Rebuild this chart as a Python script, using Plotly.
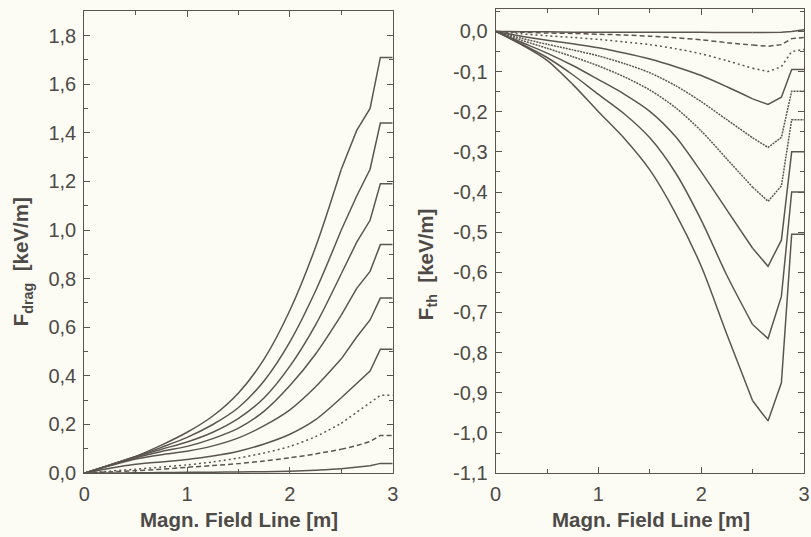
import plotly.graph_objects as go

# Position along the magnetic field line [m]
pos = [0, 0.25, 0.5, 0.75, 1.0, 1.25, 1.5, 1.75, 2.0, 2.25, 2.5, 2.65, 2.78, 2.88, 3.0]

# Drag force curves [keV/m]
drag_1 = [0, 0.034, 0.069, 0.115, 0.168, 0.235, 0.33, 0.47, 0.67, 0.93, 1.25, 1.41, 1.50, 1.71, 1.71]
drag_2 = [0, 0.034, 0.068, 0.106, 0.147, 0.20, 0.27, 0.38, 0.54, 0.75, 1.00, 1.14, 1.25, 1.44, 1.44]
drag_3 = [0, 0.033, 0.066, 0.098, 0.128, 0.168, 0.225, 0.31, 0.44, 0.61, 0.82, 0.95, 1.04, 1.19, 1.19]
drag_4 = [0, 0.032, 0.063, 0.089, 0.110, 0.142, 0.185, 0.255, 0.36, 0.49, 0.65, 0.76, 0.83, 0.94, 0.94]
drag_5 = [0, 0.030, 0.058, 0.076, 0.090, 0.112, 0.145, 0.195, 0.26, 0.355, 0.47, 0.56, 0.63, 0.72, 0.72]
drag_6 = [0, 0.020, 0.036, 0.046, 0.056, 0.07, 0.09, 0.12, 0.16, 0.22, 0.31, 0.37, 0.42, 0.51, 0.51]
drag_7 = [0, 0.008, 0.016, 0.025, 0.034, 0.046, 0.062, 0.083, 0.11, 0.15, 0.205, 0.25, 0.29, 0.32, 0.32]
drag_8 = [0, 0.005, 0.010, 0.016, 0.024, 0.031, 0.039, 0.050, 0.063, 0.079, 0.098, 0.113, 0.13, 0.155, 0.155]
drag_9 = [0, 0.0, 0.001, 0.002, 0.003, 0.004, 0.005, 0.006, 0.008, 0.012, 0.018, 0.024, 0.03, 0.04, 0.04]

# Thermal force curves [keV/m]
th_1 = [0, -0.001, -0.001, -0.002, -0.002, -0.002, -0.002, -0.002, -0.002, -0.003, -0.003, -0.003, -0.002, 0.0, 0.004]
th_2 = [0, -0.002, -0.004, -0.005, -0.007, -0.009, -0.012, -0.016, -0.021, -0.028, -0.034, -0.037, -0.033, -0.018, -0.015]
th_3 = [0, -0.006, -0.011, -0.015, -0.020, -0.026, -0.033, -0.043, -0.056, -0.073, -0.092, -0.100, -0.088, -0.050, -0.045]
th_4 = [0, -0.012, -0.022, -0.031, -0.041, -0.054, -0.069, -0.088, -0.110, -0.138, -0.168, -0.182, -0.164, -0.095, -0.095]
th_5 = [0, -0.017, -0.032, -0.046, -0.061, -0.080, -0.103, -0.135, -0.175, -0.220, -0.265, -0.289, -0.264, -0.149, -0.149]
th_6 = [0, -0.022, -0.042, -0.063, -0.086, -0.113, -0.146, -0.190, -0.248, -0.318, -0.388, -0.423, -0.385, -0.220, -0.220]
th_7 = [0, -0.027, -0.054, -0.085, -0.120, -0.156, -0.199, -0.262, -0.350, -0.445, -0.540, -0.585, -0.520, -0.300, -0.300]
th_8 = [0, -0.031, -0.065, -0.108, -0.157, -0.205, -0.265, -0.352, -0.470, -0.608, -0.730, -0.765, -0.660, -0.400, -0.400]
th_9 = [0, -0.033, -0.072, -0.132, -0.200, -0.266, -0.345, -0.453, -0.585, -0.755, -0.920, -0.970, -0.875, -0.505, -0.505]

# Tick labels (decimal comma)
x_ticks = [0, 1, 2, 3]
x_labels = ["0", "1", "2", "3"]
drag_ticks = [0.0, 0.2, 0.4, 0.6, 0.8, 1.0, 1.2, 1.4, 1.6, 1.8]
drag_labels = ["0,0", "0,2", "0,4", "0,6", "0,8", "1,0", "1,2", "1,4", "1,6", "1,8"]
th_ticks = [-1.1, -1.0, -0.9, -0.8, -0.7, -0.6, -0.5, -0.4, -0.3, -0.2, -0.1, 0.0]
th_labels = ["-1,1", "-1,0", "-0,9", "-0,8", "-0,7", "-0,6", "-0,5", "-0,4", "-0,3", "-0,2", "-0,1", "0,0"]

INK = "#5b5550"
TXT = "#4d4a47"
BG = "#fcfcf5"

drag_curves = [drag_1, drag_2, drag_3, drag_4, drag_5, drag_6, drag_7, drag_8, drag_9]
drag_dash = ["solid", "solid", "solid", "solid", "solid", "solid", "2px,3px", "5px,3px", "solid"]
th_curves = [th_1, th_2, th_3, th_4, th_5, th_6, th_7, th_8, th_9]
th_dash = ["solid", "5px,3px", "2px,3px", "solid", "2px,1px", "2px,1px", "solid", "solid", "solid"]

# The smooth rise is drawn as a spline up to this index, the end segment
# (minimum, sharp recovery and plateau) as straight pieces.
SPLIT = pos.index(2.5)


def add_curve(fig, ys, dash, xa, ya):
    style = dict(color=INK, width=1.5, dash=dash)
    fig.add_trace(go.Scatter(x=pos[:SPLIT + 1], y=ys[:SPLIT + 1], mode="lines",
                             xaxis=xa, yaxis=ya, line=dict(style, shape="spline", smoothing=0.8),
                             showlegend=False))
    fig.add_trace(go.Scatter(x=pos[SPLIT:], y=ys[SPLIT:], mode="lines",
                             xaxis=xa, yaxis=ya, line=dict(style, shape="linear"),
                             showlegend=False))


fig = go.Figure()
for ys, d in zip(drag_curves, drag_dash):
    add_curve(fig, ys, d, "x", "y")
for ys, d in zip(th_curves, th_dash):
    add_curve(fig, ys, d, "x2", "y2")

W, H = 811, 537
FONT = "Liberation Sans, Arial, Helvetica, sans-serif"
tick_font = dict(family=FONT, size=20, color=TXT)

# Panel frames in pixels (left, right, top, bottom)
LEFT_BOX = (79.5, 392.5, 11.5, 483)
RIGHT_BOX = (497, 810, 9.5, 483)


def xaxis_style(box, anchor):
    return dict(domain=[box[0] / W, box[1] / W], anchor=anchor, range=[0, 3],
                tickvals=x_ticks, ticktext=x_labels,
                ticks="inside", ticklen=6, tickcolor=INK, tickwidth=1,
                minor=dict(dtick=0.5, tick0=0, ticks="inside", ticklen=4, tickcolor=INK),
                showline=True, linecolor=INK, linewidth=1.2, mirror="allticks",
                showgrid=False, zeroline=False, tickfont=tick_font, ticklabelstandoff=3)


def yaxis_style(box, anchor, rng, vals, labels, minor_step):
    return dict(domain=[(H - box[3]) / H, (H - box[2]) / H], anchor=anchor, range=rng,
                tickvals=vals, ticktext=labels,
                ticks="inside", ticklen=6, tickcolor=INK, tickwidth=1,
                minor=dict(dtick=minor_step, tick0=0, ticks="inside", ticklen=4, tickcolor=INK),
                showline=True, linecolor=INK, linewidth=1.2, mirror="allticks",
                showgrid=False, zeroline=False, tickfont=tick_font, ticklabelstandoff=3)


fig.update_layout(
    width=W, height=H,
    margin=dict(l=0, r=0, t=0, b=0),
    paper_bgcolor=BG, plot_bgcolor=BG,
    xaxis=xaxis_style(LEFT_BOX, "y"),
    yaxis=yaxis_style(LEFT_BOX, "x", [0, 1.9], drag_ticks, drag_labels, 0.1),
    xaxis2=xaxis_style(RIGHT_BOX, "y2"),
    yaxis2=yaxis_style(RIGHT_BOX, "x2", [-1.1, 0.055], th_ticks, th_labels, 0.05),
)

title_font = dict(family=FONT, size=20.5, color=TXT)
common = dict(xref="paper", yref="paper", showarrow=False, font=title_font,
              xanchor="center", yanchor="middle")
fig.add_annotation(x=236 / W, y=(H - 530) / H, text="<b>Magn. Field Line [m]</b>", **common)
fig.add_annotation(x=655 / W, y=(H - 530) / H, text="<b>Magn. Field Line [m]</b>", **common)
fig.add_annotation(x=16 / W, y=(H - 267) / H, textangle=-90,
                   text="<b>F<sub>drag</sub>  [keV/m]</b>", **common)
fig.add_annotation(x=428 / W, y=(H - 270) / H, textangle=-90,
                   text="<b>F<sub>th</sub>  [keV/m]</b>", **common)

fig.write_html("out.html")
